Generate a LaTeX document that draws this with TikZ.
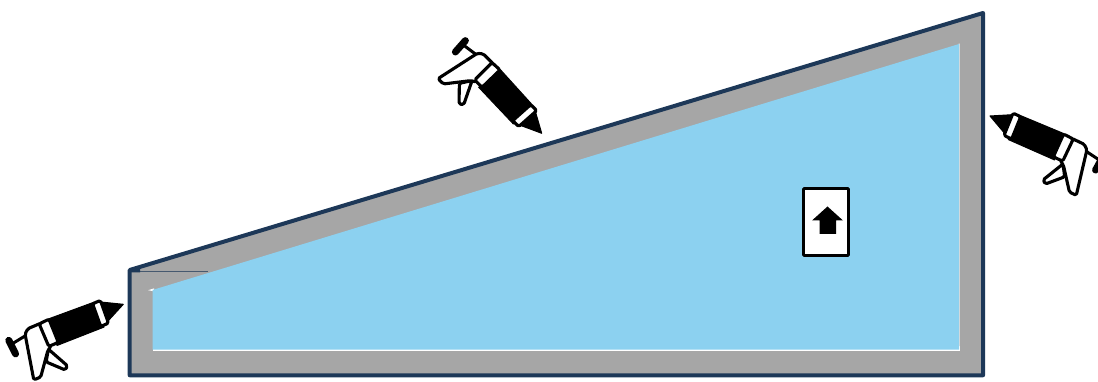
\documentclass[tikz,border=0pt]{standalone}
\definecolor{wallgrey}{HTML}{A6A6A6}
\definecolor{frameblue}{HTML}{1D3858}
\definecolor{fillblue}{HTML}{8CD1F0}
\tikzset{
  x=1pt,y=-1pt,
  gunpart/.style={draw=black,fill=white,line width=3.1pt,line join=round,rounded corners=1.6pt},
  gunblack/.style={draw=black,fill=black,line width=1pt,line join=round},
  caulk/.pic={
    \begin{scope}[scale=.3333,shift={(-365,-310)}]
      \draw[line width=3pt] (170,75) -- (130,45);
      \draw[black,line width=7pt,line cap=round] (106,66) -- (136,32);
      \path[gunpart] (118,160) -- (156,152) -- (131,224) -- (117,222) -- cycle;
      \path[gunblack] (240,118) -- (337,225) -- (280,282) -- (176,172) -- cycle;
      \path[gunblack] (347,248) -- (365,310) -- (298,285) -- cycle;
      \path[gunpart] (54,146) -- (172,70) -- (190,72) -- (220,102) -- (168,156) -- (152,152) -- (70,162) -- cycle;
      \path[gunpart] (216,98) -- (240,120) -- (186,172) -- (164,150) -- cycle;
      \path[gunpart] (332,224) -- (350,242) -- (296,290) -- (278,272) -- cycle;
    \end{scope}
  }
}
\begin{document}
\begin{tikzpicture}
\useasboundingbox (0,0) rectangle (1098,382);
\clip (0,0) rectangle (1098,382);
% wall
\path[fill=wallgrey] (129.7,270) -- (983,13) -- (983,375.3) -- (129.7,375.3) -- cycle;
% inner volume
\path[fill=white] (152.5,345) -- (959.8,345) -- (959.8,351) -- (152.5,351) -- cycle;
\path[fill=white!60!wallgrey] (958,44) -- (959.8,43.5) -- (959.8,346) -- (958,346) -- cycle;
\path[fill=white] (148,290.2) -- (154,288.4) -- (154,291) -- (152,291) -- cycle;
\path[fill=fillblue] (152.5,290) -- (959,44) -- (959,349.5) -- (152.5,349.5) -- cycle;
% seam detail
\draw[frameblue!70!wallgrey,line width=.8pt] (140,271) -- (208,271);
\path[fill=frameblue] (129.7,269) -- (140,266) -- (140,272.5) -- (131,272.5) -- cycle;
% frame
\draw[frameblue,line width=4pt,line join=round] (129.7,270) -- (983,13) -- (983,375.3) -- (129.7,375.3) -- cycle;
% label
\draw[black,fill=white,line width=2.6pt,rounded corners=.8pt] (803.5,188.5) rectangle (848.5,255.5);
\path[fill=black] (827.5,206.5) -- (843,220.5) -- (836,220.5) -- (836,234) -- (819.5,234) -- (819.5,220.5) -- (812,220.5) -- cycle;
% guns
\begin{scope}[shift={(541.7,133.3)}]\pic[transform shape]{caulk};\end{scope}
\begin{scope}[shift={(123.3,304.3)},rotate=68]\pic[transform shape]{caulk};\end{scope}
\begin{scope}[shift={(990,116)},xscale=-1,rotate=70.4]\pic[transform shape]{caulk};\end{scope}
\end{tikzpicture}
\end{document}
